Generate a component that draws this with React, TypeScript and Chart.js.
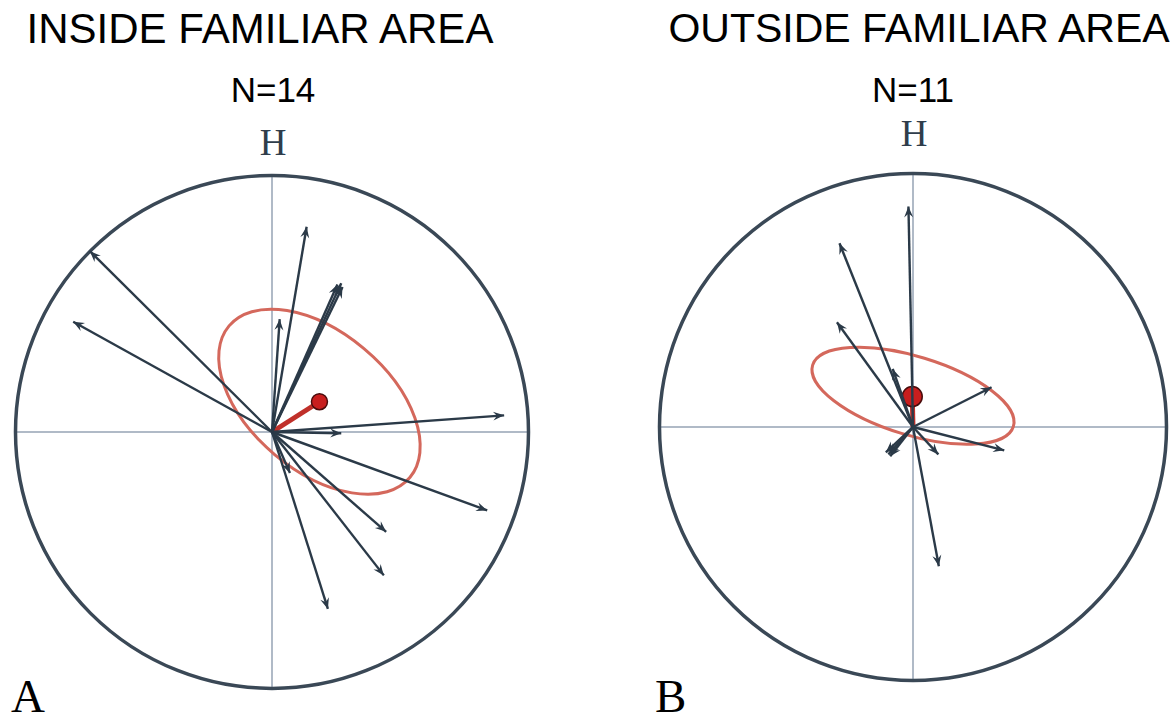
import React, { useEffect, useRef } from "react";
import { Chart, registerables } from "chart.js";

Chart.register(...registerables);

// ---------- Data (unit circle, north = H = up) ----------
// Panel A: inside familiar area (N=14)
const A_X = [-0.71, -0.775, 0.135, 0.255, 0.275, 0.27, 0.03, 0.905, 0.27, 0.07, 0.839, 0.445, 0.436, 0.218];
const A_Y = [0.705, 0.43, 0.8, 0.575, 0.565, 0.58, 0.44, 0.065, -0.005, -0.16, -0.306, -0.389, -0.559, -0.69];
const A_MEAN = [0.185, 0.118];
// ellipse: [centerX, centerY, semiMajor, semiMinor, angleDeg]
const A_ELLIPSE = [0.185, 0.118, 0.46, 0.27, -40];

// Panel B: outside familiar area (N=11)
const B_X = [-0.018, -0.29, -0.3, -0.08, 0.31, 0.36, 0.1, -0.097, -0.107, -0.09, 0.102];
const B_Y = [0.87, 0.725, 0.413, 0.229, 0.157, -0.092, -0.108, -0.108, -0.1, -0.115, -0.549];
const B_MEAN = [-0.003, 0.12];
const B_ELLIPSE = [0.0, 0.123, 0.414, 0.155, -17];

const TITLES = ["INSIDE FAMILIAR AREA", "OUTSIDE FAMILIAR AREA"];
const COUNTS = ["N=14", "N=11"];
const PANEL_LETTERS = ["A", "B"];
const NORTH_LABEL = "H";

const ARROW_COLOR = "#2b3a48";
const CIRCLE_COLOR = "#3a4856";
const AXIS_COLOR = "#b0bac7";
const ELLIPSE_COLOR = "#d4685c";
const MEAN_COLOR = "#c0302a";

const framePlugin = {
  id: "compassFrame",
  beforeDatasetsDraw(chart: any, _args: any, opts: any) {
    const { ctx, scales } = chart;
    const xs = scales.x;
    const ys = scales.y;
    const cx = xs.getPixelForValue(0);
    const cy = ys.getPixelForValue(0);
    const r = xs.getPixelForValue(1) - cx;
    ctx.save();
    // crosshair
    ctx.strokeStyle = AXIS_COLOR;
    ctx.lineWidth = 2;
    ctx.beginPath();
    ctx.moveTo(xs.getPixelForValue(-1), cy);
    ctx.lineTo(xs.getPixelForValue(1), cy);
    ctx.moveTo(cx, ys.getPixelForValue(1));
    ctx.lineTo(cx, ys.getPixelForValue(-1));
    ctx.stroke();
    // outer circle
    ctx.strokeStyle = CIRCLE_COLOR;
    ctx.lineWidth = 3.5;
    ctx.beginPath();
    ctx.arc(cx, cy, r, 0, Math.PI * 2);
    ctx.stroke();
    // confidence ellipse
    const e = opts.ellipse as number[];
    const ex = xs.getPixelForValue(e[0]);
    const ey = ys.getPixelForValue(e[1]);
    const ea = xs.getPixelForValue(e[2]) - cx;
    const eb = xs.getPixelForValue(e[3]) - cx;
    ctx.strokeStyle = ELLIPSE_COLOR;
    ctx.lineWidth = 3;
    ctx.beginPath();
    ctx.ellipse(ex, ey, ea, eb, (-e[4] * Math.PI) / 180, 0, Math.PI * 2);
    ctx.stroke();
    ctx.restore();
  },
  afterDatasetsDraw(chart: any) {
    const { ctx } = chart;
    ctx.save();
    chart.data.datasets.forEach((ds: any, i: number) => {
      if (!ds.arrow) return;
      const meta = chart.getDatasetMeta(i);
      const p0 = meta.data[0];
      const p1 = meta.data[1];
      const ang = Math.atan2(p1.y - p0.y, p1.x - p0.x);
      const len = 11;
      const half = 4.5;
      ctx.fillStyle = ARROW_COLOR;
      ctx.beginPath();
      ctx.moveTo(p1.x, p1.y);
      ctx.lineTo(
        p1.x - len * Math.cos(ang) + half * Math.sin(ang),
        p1.y - len * Math.sin(ang) - half * Math.cos(ang)
      );
      ctx.lineTo(p1.x - len * 0.65 * Math.cos(ang), p1.y - len * 0.65 * Math.sin(ang));
      ctx.lineTo(
        p1.x - len * Math.cos(ang) - half * Math.sin(ang),
        p1.y - len * Math.sin(ang) + half * Math.cos(ang)
      );
      ctx.closePath();
      ctx.fill();
    });
    ctx.restore();
  },
};

function buildDatasets(xs: number[], ys: number[], mean: number[], dotR: number) {
  const sets: any[] = xs.map((x, i) => ({
    data: [
      { x: 0, y: 0 },
      { x, y: ys[i] },
    ],
    showLine: true,
    borderColor: ARROW_COLOR,
    borderWidth: 2.4,
    pointRadius: 0,
    arrow: true,
  }));
  sets.push({
    data: [
      { x: 0, y: 0 },
      { x: mean[0], y: mean[1] },
    ],
    showLine: true,
    borderColor: MEAN_COLOR,
    borderWidth: 5,
    pointRadius: [0, dotR],
    pointBackgroundColor: "#c81e1e",
    pointBorderColor: "#4a0c0c",
    pointBorderWidth: 1.5,
  });
  return sets;
}

function Compass(props: {
  xs: number[];
  ys: number[];
  mean: number[];
  ellipse: number[];
  left: number;
  top: number;
  size: number;
  pad: number;
  dotR: number;
}) {
  const ref = useRef<HTMLCanvasElement>(null);
  useEffect(() => {
    if (!ref.current) return;
    const chart = new Chart(ref.current, {
      type: "scatter",
      data: { datasets: buildDatasets(props.xs, props.ys, props.mean, props.dotR) },
      options: {
        animation: false,
        responsive: false,
        devicePixelRatio: 1,
        layout: { padding: props.pad },
        scales: {
          x: { type: "linear", min: -1, max: 1, display: false },
          y: { type: "linear", min: -1, max: 1, display: false },
        },
        plugins: {
          legend: { display: false },
          tooltip: { enabled: false },
          compassFrame: { ellipse: props.ellipse },
        } as any,
        events: [],
      },
      plugins: [framePlugin],
    });
    return () => chart.destroy();
  }, []);
  return (
    <canvas
      ref={ref}
      width={props.size}
      height={props.size}
      style={{
        position: "absolute",
        left: props.left,
        top: props.top,
        width: props.size,
        height: props.size,
      }}
    />
  );
}

const sans = '"Liberation Sans", Arial, Helvetica, sans-serif';
const serif = '"Liberation Serif", "Times New Roman", serif';

function Label(props: {
  text: string;
  cx?: number;
  left?: number;
  top: number;
  size: number;
  font: string;
  color: string;
  weight?: number;
}) {
  const style: React.CSSProperties = {
    position: "absolute",
    top: props.top,
    fontFamily: props.font,
    fontSize: props.size,
    fontWeight: props.weight ?? 400,
    lineHeight: 1,
    color: props.color,
    whiteSpace: "nowrap",
  };
  if (props.cx !== undefined) {
    style.left = props.cx;
    style.transform = "translateX(-50%)";
  } else {
    style.left = props.left;
  }
  return <div style={style}>{props.text}</div>;
}

export default function App() {
  const pad = 6;
  const rA = 260;
  const rB = 259;
  const cA = [272, 432];
  const cB = [913, 427];
  return (
    <div
      style={{
        position: "absolute",
        left: 0,
        top: 0,
        width: 1174,
        height: 718,
        overflow: "hidden",
        background: "#ffffff",
      }}
    >
      <Label text={TITLES[0]} cx={260} top={8} size={42} font={sans} color="#000" />
      <Label text={TITLES[1]} cx={919} top={8} size={41} font={sans} color="#000" />
      <Label text={COUNTS[0]} cx={273} top={72} size={35} font={sans} color="#000" />
      <Label text={COUNTS[1]} cx={913} top={72} size={35} font={sans} color="#000" />
      <Label text={NORTH_LABEL} cx={273} top={124} size={37} font={serif} color="#2f3d4b" />
      <Label text={NORTH_LABEL} cx={914} top={115} size={37} font={serif} color="#2f3d4b" />
      <Label text={PANEL_LETTERS[0]} left={11} top={673} size={47} font={serif} color="#000" />
      <Label text={PANEL_LETTERS[1]} left={655} top={673} size={47} font={serif} color="#000" />
      <Compass
        xs={A_X}
        ys={A_Y}
        mean={A_MEAN}
        ellipse={A_ELLIPSE}
        left={cA[0] - rA - pad}
        top={cA[1] - rA - pad}
        size={2 * (rA + pad)}
        pad={pad}
        dotR={8}
      />
      <Compass
        xs={B_X}
        ys={B_Y}
        mean={B_MEAN}
        ellipse={B_ELLIPSE}
        left={cB[0] - rB - pad}
        top={cB[1] - rB - pad}
        size={2 * (rB + pad)}
        pad={pad}
        dotR={10}
      />
    </div>
  );
}
